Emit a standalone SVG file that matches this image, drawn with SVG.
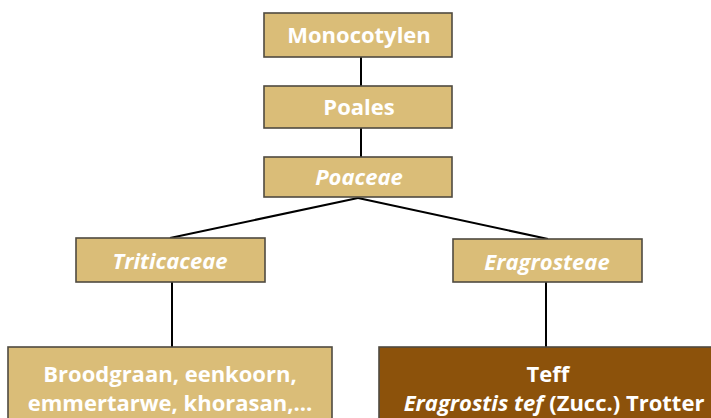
<svg xmlns="http://www.w3.org/2000/svg" width="711" height="418" viewBox="0 0 711 418">
<style>
.box{fill:#dabd78;stroke:#4f4a40;stroke-width:1.6}
.dark{fill:#8c520b;stroke:#4f4a40;stroke-width:1.6}
.t{font-family:"Open Sans","Liberation Sans",sans-serif;font-weight:700;font-size:22px;fill:#ffffff;text-anchor:middle}
.i{font-style:italic}
.con{stroke:#000;stroke-width:2;fill:none}
</style>
<rect width="711" height="418" fill="#ffffff"/>
<g id="connectors">
<line class="con" x1="361" y1="57" x2="361" y2="86"/>
<line class="con" x1="361" y1="128" x2="361" y2="157"/>
<line class="con" x1="358" y1="198" x2="170" y2="238"/>
<line class="con" x1="358" y1="198" x2="548" y2="239"/>
<line class="con" x1="172" y1="282" x2="172" y2="348"/>
<line class="con" x1="546" y1="282" x2="546" y2="348"/>
</g>
<g id="monocotylen">
<rect class="box" x="264" y="13" width="188" height="44"/>
<text class="t" x="359" y="43">Monocotylen</text>
</g>
<g id="poales">
<rect class="box" x="264" y="86" width="188" height="42"/>
<text class="t" x="359" y="115">Poales</text>
</g>
<g id="poaceae">
<rect class="box" x="264" y="157" width="188" height="40"/>
<text class="t i" x="359" y="185">Poaceae</text>
</g>
<g id="triticaceae">
<rect class="box" x="76" y="238" width="189" height="44"/>
<text class="t i" x="170" y="269">Triticaceae</text>
</g>
<g id="eragrosteae">
<rect class="box" x="453" y="239" width="189" height="43"/>
<text class="t i" x="547" y="270">Eragrosteae</text>
</g>
<g id="broodgraan">
<rect class="box" x="8" y="347" width="324" height="80"/>
<text class="t" x="170" y="382">Broodgraan, eenkoorn,</text>
<text class="t" x="170" y="411">emmertarwe, khorasan,...</text>
</g>
<g id="teff">
<rect class="dark" x="379" y="347" width="350" height="80"/>
<text class="t" x="548" y="382">Teff</text>
<text class="t" x="554" y="411"><tspan class="i">Eragrostis tef</tspan> (Zucc.) Trotter</text>
</g>
</svg>
